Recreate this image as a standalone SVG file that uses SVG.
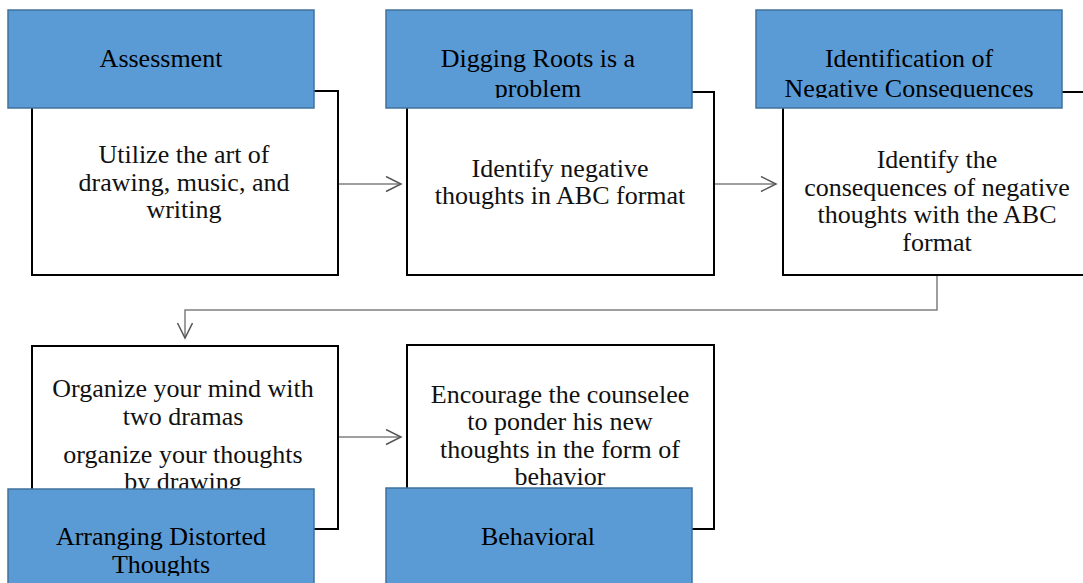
<svg xmlns="http://www.w3.org/2000/svg" width="1083" height="583" viewBox="0 0 1083 583">
<style>
.body{fill:#fff;stroke:#000;stroke-width:2}
.head{fill:#5b9bd5;stroke:#41719c;stroke-width:1.5}
text{font-family:"Liberation Serif","Times New Roman",serif;font-size:26px;fill:#000;text-anchor:middle}
.bt{fill:#111}
.conn{fill:none;stroke:#7f7f7f;stroke-width:1.5}
</style>
<defs>
<marker id="arr" markerUnits="userSpaceOnUse" markerWidth="20" markerHeight="20" refX="16" refY="8" orient="auto">
<path d="M1,0.5 L16,8 L1,15.5" fill="none" stroke="#555" stroke-width="1.5"/>
</marker>
<clipPath id="c1"><rect x="8" y="10" width="306" height="88"/></clipPath>
<clipPath id="c2"><rect x="386" y="10" width="306" height="88"/></clipPath>
<clipPath id="c3"><rect x="756" y="10" width="306" height="88"/></clipPath>
<clipPath id="c4"><rect x="8" y="489" width="306" height="87"/></clipPath>
<clipPath id="c5"><rect x="386" y="488" width="306" height="88"/></clipPath>
</defs>
<g id="connectors">
<line class="conn" x1="338" y1="184" x2="401" y2="184" marker-end="url(#arr)"/>
<line class="conn" x1="714" y1="184" x2="776" y2="184" marker-end="url(#arr)"/>
<path class="conn" d="M937,275 V310 H185 V338" marker-end="url(#arr)"/>
<line class="conn" x1="338" y1="437" x2="401" y2="437" marker-end="url(#arr)"/>
</g>
<g id="node1">
<rect class="body" x="32" y="91" width="306" height="184"/>
<text class="bt" x="184" y="163">Utilize the art of</text>
<text class="bt" x="184" y="191">drawing, music, and</text>
<text class="bt" x="184" y="218">writing</text>
<rect class="head" x="8" y="10" width="306" height="98"/>
<g clip-path="url(#c1)"><text x="161" y="67">Assessment</text></g>
</g>
<g id="node2">
<rect class="body" x="407" y="92" width="307" height="183"/>
<text class="bt" x="560" y="177">Identify  negative</text>
<text class="bt" x="560" y="204">thoughts in ABC format</text>
<rect class="head" x="386" y="10" width="306" height="98"/>
<g clip-path="url(#c2)"><text x="538" y="67">Digging Roots is a</text><text x="538" y="97">problem</text></g>
</g>
<g id="node3">
<rect class="body" x="783" y="92" width="310" height="183"/>
<text class="bt" x="937" y="168">Identify  the</text>
<text class="bt" x="937" y="196">consequences  of negative</text>
<text class="bt" x="937" y="223">thoughts with the ABC</text>
<text class="bt" x="937" y="251">format</text>
<rect class="head" x="756" y="10" width="306" height="98"/>
<g clip-path="url(#c3)"><text x="909" y="67">Identification of</text><text x="909" y="97">Negative Consequences</text></g>
</g>
<g id="node4">
<rect class="body" x="32" y="346" width="306" height="183"/>
<text class="bt" x="183" y="397">Organize your mind with</text>
<text class="bt" x="183" y="425">two dramas</text>
<text class="bt" x="183" y="463">organize your thoughts</text>
<text class="bt" x="183" y="490">by drawing</text>
<rect class="head" x="8" y="489" width="306" height="98"/>
<g clip-path="url(#c4)"><text x="161" y="545">Arranging Distorted</text><text x="161" y="573">Thoughts</text></g>
</g>
<g id="node5">
<rect class="body" x="407" y="345" width="307" height="184"/>
<text class="bt" x="560" y="403">Encourage the counselee</text>
<text class="bt" x="560" y="430">to ponder his new</text>
<text class="bt" x="560" y="458">thoughts in the form of</text>
<text class="bt" x="560" y="485">behavior</text>
<rect class="head" x="386" y="488" width="306" height="98"/>
<g clip-path="url(#c5)"><text x="538" y="545">Behavioral</text></g>
</g>
</svg>
